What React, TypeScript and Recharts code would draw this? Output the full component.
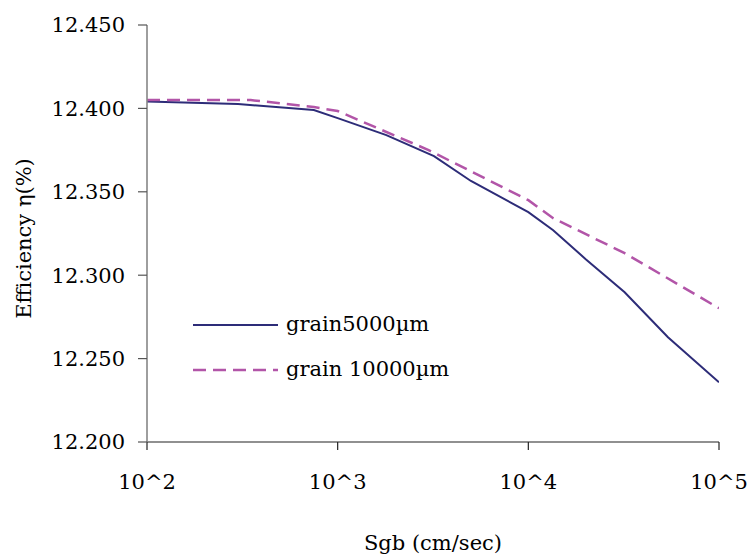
import React from 'react';
import { LineChart, Line, XAxis, YAxis, Legend } from 'recharts';

const xTicks = [100, 1000, 10000, 100000];
const yTicks = [12.2, 12.25, 12.3, 12.35, 12.4, 12.45];

const grain5000X = [100, 300, 750, 1000, 1800, 3200, 5000, 10000, 13500, 20000, 32000, 54000, 100000];
const grain5000Y = [12.4041, 12.4026, 12.399, 12.3942, 12.384, 12.3714, 12.3565, 12.3378, 12.327, 12.3096, 12.2898, 12.2628, 12.2358];

const grain10000X = [100, 350, 750, 1000, 3000, 10000, 13500, 32000, 100000];
const grain10000Y = [12.405, 12.405, 12.4008, 12.3984, 12.375, 12.345, 12.3342, 12.3132, 12.2802];

const seriesNames = ['grain5000µm', 'grain 10000µm'];

const data5000 = grain5000X.map((x, i) => ({ x, y: grain5000Y[i] }));
const data10000 = grain10000X.map((x, i) => ({ x, y: grain10000Y[i] }));

const FONT = 'DejaVu Serif';
const FS = 21;
const SOLID = '#2d2c78';
const DASH = '#b255a8';

const YLabel = (props: any) => {
  const vb = props.viewBox || {};
  const cx = vb.x + 24;
  const cy = vb.y + vb.height / 2 + 5;
  return (
    <text
      x={cx}
      y={cy}
      transform={`rotate(-90, ${cx}, ${cy})`}
      textAnchor="middle"
      dominantBaseline="central"
      style={{ fontFamily: FONT, fontSize: FS }}
      fill="#000"
    >
      Efficiency η(%)
    </text>
  );
};

const LegendContent = () => {
  const rows = [
    { name: seriesNames[0], color: SOLID, dash: undefined, w: 2 },
    { name: seriesNames[1], color: DASH, dash: '13 7', w: 2.5 },
  ];
  return (
    <svg width={300} height={100} style={{ display: 'block', overflow: 'visible' }}>
      {rows.map((r, i) => (
        <g key={r.name}>
          <line x1={0} x2={85} y1={20 + i * 45} y2={20 + i * 45} stroke={r.color} strokeWidth={r.w} strokeDasharray={r.dash} />
          <text x={93} y={19 + i * 45} dominantBaseline="central" style={{ fontFamily: FONT, fontSize: FS }} fill="#000">
            {r.name}
          </text>
        </g>
      ))}
    </svg>
  );
};

export default function App() {
  return (
    <div style={{ position: 'absolute', left: 0, top: 0, width: 748, height: 555, background: '#fff', fontFamily: FONT }}>
      <LineChart width={748} height={555} margin={{ top: 25, right: 29, bottom: 0, left: 0 }} style={{ fontFamily: FONT }}>
        <XAxis
          dataKey="x"
          type="number"
          scale="log"
          domain={[100, 100000]}
          ticks={xTicks}
          allowDataOverflow
          tickFormatter={(v: number) => '10^' + Math.round(Math.log10(v))}
          height={113}
          tickSize={8}
          tickMargin={24}
          axisLine={{ stroke: '#222', strokeWidth: 1.2 }}
          tickLine={{ stroke: '#222', strokeWidth: 1.2 }}
          tick={{ fill: '#000', fontFamily: FONT, fontSize: FS }}
          label={{ value: 'Sgb (cm/sec)', position: 'insideBottom', offset: 5, fill: '#000', fontFamily: FONT, fontSize: FS }}
        />
        <YAxis
          type="number"
          domain={[12.2, 12.45]}
          ticks={yTicks}
          allowDataOverflow
          width={147}
          tickSize={9}
          tickMargin={13}
          tickFormatter={(v: number) => v.toFixed(3)}
          axisLine={{ stroke: '#868686', strokeWidth: 1.6 }}
          tickLine={{ stroke: '#555', strokeWidth: 1.2 }}
          tick={{ fill: '#000', fontFamily: FONT, fontSize: FS }}
          label={<YLabel />}
        />
        <Legend
          layout="vertical"
          verticalAlign="middle"
          align="center"
          content={<LegendContent />}
          wrapperStyle={{ position: 'absolute', left: 193, top: 305, width: 300, height: 100 }}
        />
        <Line
          data={data5000}
          dataKey="y"
          name={seriesNames[0]}
          type="linear"
          stroke={SOLID}
          strokeWidth={2}
          dot={false}
          isAnimationActive={false}
        />
        <Line
          data={data10000}
          dataKey="y"
          name={seriesNames[1]}
          type="linear"
          stroke={DASH}
          strokeWidth={2.5}
          strokeDasharray="13 7"
          dot={false}
          isAnimationActive={false}
        />
      </LineChart>
    </div>
  );
}
